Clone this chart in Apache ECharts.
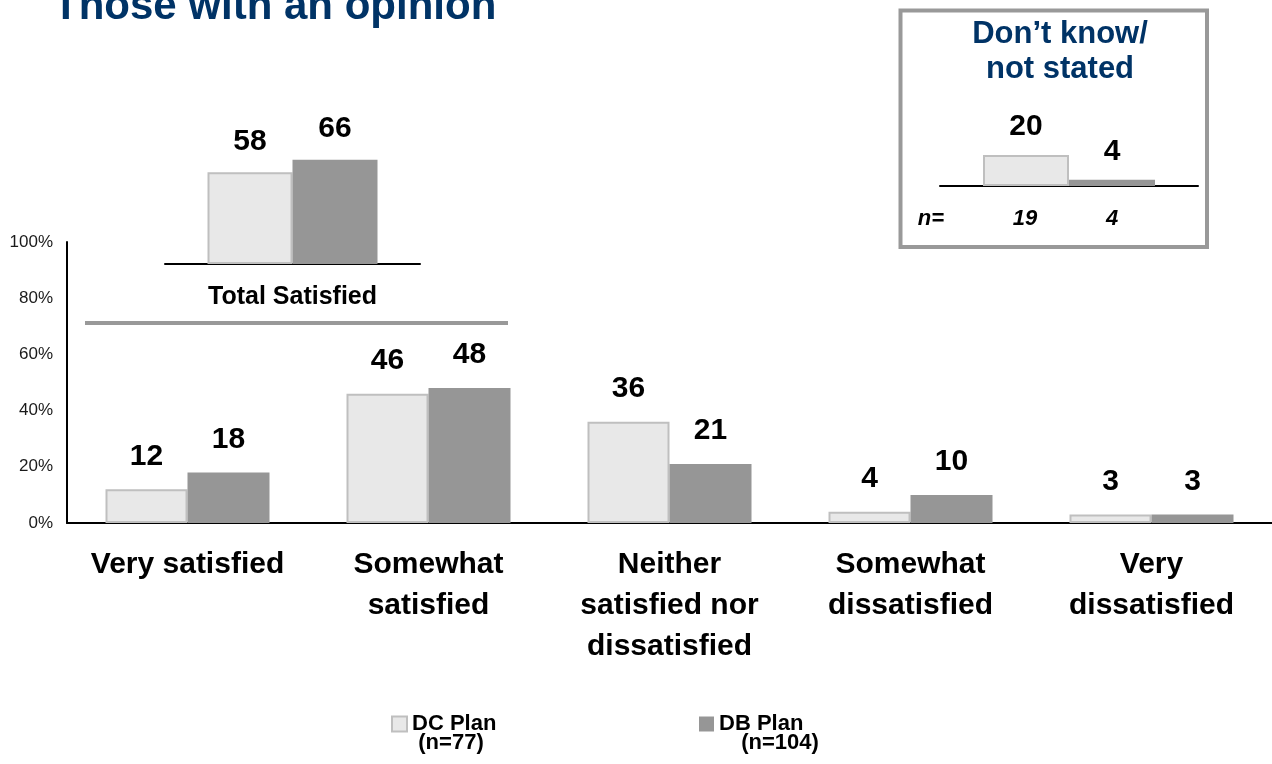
<!DOCTYPE html>
<html>
<head>
<meta charset="utf-8">
<script src="https://cdn.jsdelivr.net/npm/echarts@6/dist/echarts.min.js"></script>
<style>
  html, body { margin: 0; padding: 0; background: #fff; }
  #chart { width: 1272px; height: 764px; }
</style>
</head>
<body>
<div id="chart"></div>
<script>
// Satisfaction responses, DC vs DB plan members (percent)
const categories = [
  'Very satisfied',
  'Somewhat\nsatisfied',
  'Neither\nsatisfied nor\ndissatisfied',
  'Somewhat\ndissatisfied',
  'Very\ndissatisfied'
];
const dcValues = [12, 46, 36, 4, 3];
const dbValues = [18, 48, 21, 10, 3];

// Summary: total satisfied
const totalCategory = ['Total Satisfied'];
const dcTotal = [58];
const dbTotal = [66];

// Don't know / not stated, with base sizes
const dontKnowCategory = [''];
const dcDontKnow = [20];
const dbDontKnow = [4];
const dontKnowBase = ['19', '4'];

const seriesNames = ['DC Plan', 'DB Plan'];
const seriesBase = ['(n=77)', '(n=104)'];
const yTicks = { min: 0, max: 100, interval: 20 };

const FONT = '"Liberation Sans", Arial, sans-serif';
const NAVY = '#003366';
const dcStyle = { color: '#E8E8E8', borderColor: '#BFBFBF', borderWidth: 2 };
const dbStyle = { color: '#969696' };

function barLabel(distance) {
  return {
    show: true, position: 'top', distance: distance,
    fontFamily: FONT, fontSize: 30, fontWeight: 'bold', color: '#000'
  };
}

function barSeries(name, data, axisIndex, width, style, distance) {
  return {
    name: name, type: 'bar', data: data,
    xAxisIndex: axisIndex, yAxisIndex: axisIndex,
    barWidth: width, barGap: '0%',
    itemStyle: style,
    label: barLabel(distance),
    emphasis: { disabled: true },
    animation: false
  };
}

const chart = echarts.init(document.getElementById('chart'), null, { renderer: 'canvas' });

const hiddenY = { type: 'value', min: 0, max: 100, show: false };
const legendText = { fontFamily: FONT, fontSize: 22, fontWeight: 'bold', color: '#000' };

chart.setOption({
  animation: false,
  grid: [
    { left: 67, top: 242, width: 1225, height: 281 },
    { left: 165, top: 106, width: 255, height: 158 },
    { left: 940, top: 31, width: 258, height: 155 }
  ],
  xAxis: [
    {
      type: 'category', gridIndex: 0, data: categories,
      axisLine: { lineStyle: { color: '#000', width: 2 } },
      axisTick: { show: false },
      axisLabel: {
        interval: 0, margin: 21, color: '#000',
        fontFamily: FONT, fontSize: 30, fontWeight: 'bold', lineHeight: 41
      }
    },
    {
      type: 'category', gridIndex: 1, data: totalCategory,
      axisLine: { lineStyle: { color: '#000', width: 2 } },
      axisTick: { show: false },
      axisLabel: {
        margin: 21, color: '#000',
        fontFamily: FONT, fontSize: 25, fontWeight: 'bold'
      }
    },
    {
      type: 'category', gridIndex: 2, data: dontKnowCategory,
      axisLine: { lineStyle: { color: '#000', width: 2 } },
      axisTick: { show: false },
      axisLabel: { show: false }
    }
  ],
  yAxis: [
    {
      type: 'value', gridIndex: 0,
      min: yTicks.min, max: yTicks.max, interval: yTicks.interval,
      axisLine: { show: true, lineStyle: { color: '#000', width: 2 } },
      axisTick: { show: false },
      splitLine: { show: false },
      axisLabel: {
        formatter: '{value}%', margin: 14, color: '#1a1a1a',
        fontFamily: FONT, fontSize: 17
      }
    },
    Object.assign({ gridIndex: 1 }, hiddenY),
    Object.assign({ gridIndex: 2 }, hiddenY)
  ],
  legend: [
    {
      data: [seriesNames[0]], left: 386, top: 708, orient: 'horizontal',
      icon: 'rect', itemWidth: 15, itemHeight: 15, itemGap: 0, itemTextGap: 8,
      selectedMode: false,
      itemStyle: dcStyle,
      textStyle: legendText
    },
    {
      data: [seriesNames[1]], left: 694, top: 708, orient: 'horizontal',
      icon: 'rect', itemWidth: 15, itemHeight: 15, itemGap: 0, itemTextGap: 8,
      selectedMode: false,
      itemStyle: dbStyle,
      textStyle: legendText
    }
  ],
  series: [
    barSeries(seriesNames[0], dcValues, 0, 82, dcStyle, 18),
    barSeries(seriesNames[1], dbValues, 0, 82, dbStyle, 18),
    barSeries(seriesNames[0], dcTotal, 1, 85, dcStyle, 16),
    barSeries(seriesNames[1], dbTotal, 1, 85, dbStyle, 16),
    barSeries(seriesNames[0], dcDontKnow, 2, 86, dcStyle, 13),
    barSeries(seriesNames[1], dbDontKnow, 2, 86, dbStyle, 13)
  ],
  graphic: [
    // heading
    {
      type: 'text', x: 53, y: 7, silent: true,
      style: {
        text: 'Those with an opinion', fill: NAVY,
        font: 'bold 42px ' + FONT, verticalAlign: 'middle', align: 'left'
      }
    },
    // separator under the total satisfied summary
    {
      type: 'line', silent: true,
      shape: { x1: 85, y1: 323, x2: 508, y2: 323 },
      style: { stroke: '#999999', lineWidth: 4 }
    },
    // frame around the don't know panel
    {
      type: 'rect', silent: true,
      shape: { x: 900.5, y: 10.5, width: 306.5, height: 236.5 },
      style: { fill: 'none', stroke: '#999999', lineWidth: 4 }
    },
    {
      type: 'text', x: 1060, y: 52, silent: true,
      style: {
        text: 'Don\u2019t know/\nnot stated', fill: NAVY,
        font: 'bold 31px ' + FONT, lineHeight: 35,
        align: 'center', verticalAlign: 'middle'
      }
    },
    {
      type: 'text', x: 931, y: 219, silent: true,
      style: {
        text: 'n=', fill: '#000', font: 'italic bold 22px ' + FONT,
        align: 'center', verticalAlign: 'middle'
      }
    },
    {
      type: 'text', x: 1025, y: 219, silent: true,
      style: {
        text: dontKnowBase[0], fill: '#000', font: 'italic bold 22px ' + FONT,
        align: 'center', verticalAlign: 'middle'
      }
    },
    {
      type: 'text', x: 1112, y: 219, silent: true,
      style: {
        text: dontKnowBase[1], fill: '#000', font: 'italic bold 22px ' + FONT,
        align: 'center', verticalAlign: 'middle'
      }
    },
    // base sizes under the legend entries
    {
      type: 'text', x: 451, y: 743, silent: true,
      style: {
        text: seriesBase[0], fill: '#000', font: 'bold 22px ' + FONT,
        align: 'center', verticalAlign: 'middle'
      }
    },
    {
      type: 'text', x: 780, y: 743, silent: true,
      style: {
        text: seriesBase[1], fill: '#000', font: 'bold 22px ' + FONT,
        align: 'center', verticalAlign: 'middle'
      }
    }
  ]
});
</script>
</body>
</html>
